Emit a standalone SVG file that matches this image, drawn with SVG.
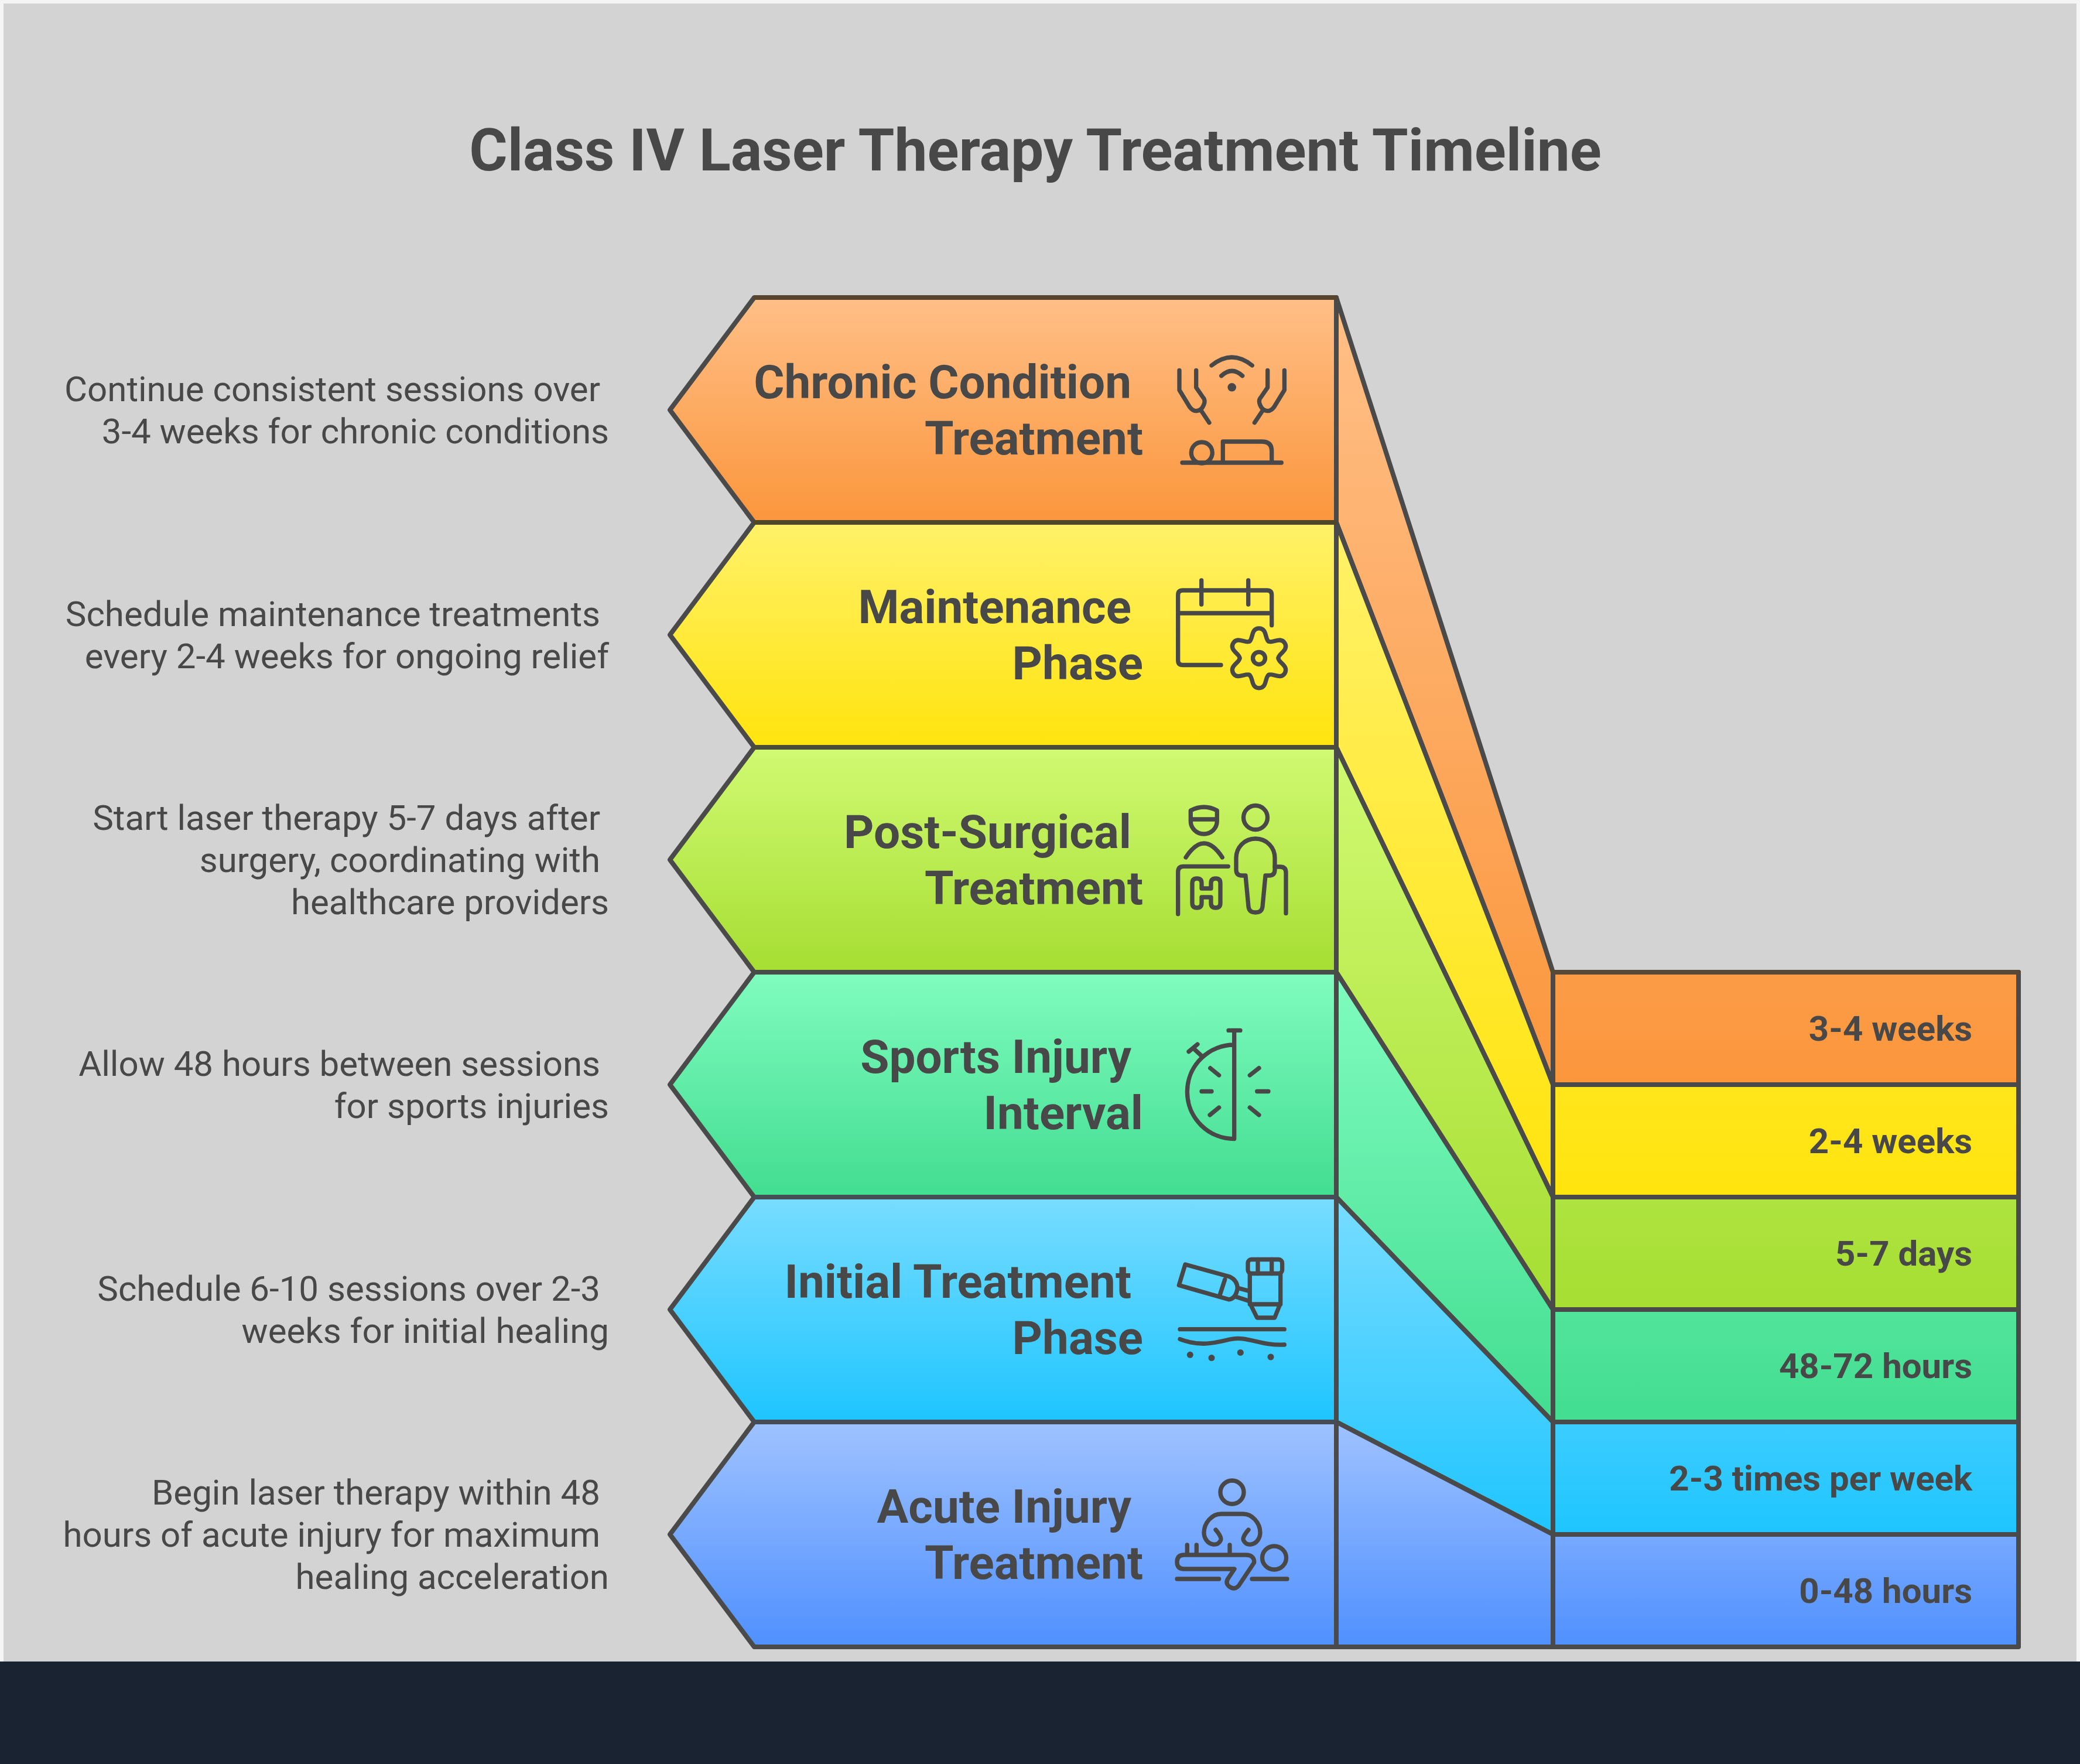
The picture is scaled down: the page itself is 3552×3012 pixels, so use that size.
<svg xmlns="http://www.w3.org/2000/svg" width="3552" height="3012" viewBox="0 0 3552 3012">
<style>
text{font-family:Roboto,"Liberation Sans",sans-serif;fill:#484848}
.t{font-size:100px;font-weight:700;text-anchor:middle}
.l{font-size:80px;font-weight:700;text-anchor:end}
.d{font-size:60px;font-weight:400;text-anchor:end}
.r{font-size:60px;font-weight:700;text-anchor:end}
.s{stroke:#4a4a4a;stroke-width:8;stroke-linejoin:round;stroke-linecap:round}
.h{stroke-width:8;stroke-linecap:round}
.i{fill:none;stroke:#484848;stroke-width:7.3;stroke-linecap:round;stroke-linejoin:round}
.i .f{fill:#484848;stroke:none}
</style>
<defs>
<linearGradient id="g1" x1="0" y1="0" x2="0" y2="1"><stop offset="0" stop-color="#ffbf87"/><stop offset="1" stop-color="#fb963c"/></linearGradient>
<linearGradient id="g2" x1="0" y1="0" x2="0" y2="1"><stop offset="0" stop-color="#fff169"/><stop offset="1" stop-color="#ffe40d"/></linearGradient>
<linearGradient id="g3" x1="0" y1="0" x2="0" y2="1"><stop offset="0" stop-color="#d0fa72"/><stop offset="1" stop-color="#a6de32"/></linearGradient>
<linearGradient id="g4" x1="0" y1="0" x2="0" y2="1"><stop offset="0" stop-color="#80fcbf"/><stop offset="1" stop-color="#42dd90"/></linearGradient>
<linearGradient id="g5" x1="0" y1="0" x2="0" y2="1"><stop offset="0" stop-color="#78dcff"/><stop offset="1" stop-color="#1ec5ff"/></linearGradient>
<linearGradient id="g6" x1="0" y1="0" x2="0" y2="1"><stop offset="0" stop-color="#9fc2ff"/><stop offset="1" stop-color="#4f90ff"/></linearGradient>
</defs>
<rect width="3552" height="3012" fill="#f5f5f5"/>
<rect x="6" y="6" width="3540" height="2831" fill="#d3d3d3"/>
<rect y="2837" width="3552" height="175" fill="#1a2332"/>
<text class="t" x="1768" y="291">Class IV Laser Therapy Treatment Timeline</text>

<g id="connectors">
<polygon class="s" fill="url(#g1)" points="2282,508 2652,1660 3447,1660 3447,1852 2652,1852 2282,892"/>
<polygon class="s" fill="url(#g2)" points="2282,892 2652,1852 3447,1852 3447,2044 2652,2044 2282,1276"/>
<polygon class="s" fill="url(#g3)" points="2282,1276 2652,2044 3447,2044 3447,2236 2652,2236 2282,1660"/>
<polygon class="s" fill="url(#g4)" points="2282,1660 2652,2236 3447,2236 3447,2428 2652,2428 2282,2044"/>
<polygon class="s" fill="url(#g5)" points="2282,2044 2652,2428 3447,2428 3447,2620 2652,2620 2282,2428"/>
<polygon class="s" fill="url(#g6)" points="2282,2428 2652,2620 3447,2620 3447,2812 2282,2812"/>
<line class="s" x1="2652" y1="1660" x2="2652" y2="2812"/>
<line class="h" stroke="#584838" x1="2652" y1="1660" x2="3447" y2="1660"/>
</g>

<g id="node-chronic">
<polygon class="s" fill="url(#g1)" points="1288,508 2282,508 2282,892 1288,892 1144,700"/>
<line class="h" stroke="#59442f" x1="1290" y1="508" x2="2280" y2="508"/>
<text class="l" x="1932" y="680">Chronic Condition</text>
<text class="l" x="1952" y="776">Treatment</text>
<text class="d" x="1025" y="685">Continue consistent sessions over</text>
<text class="d" x="1040" y="757">3-4 weeks for chronic conditions</text>
<text class="r" x="3368" y="1777">3-4 weeks</text>
<g class="i">
<path d="M2069 624Q2103.7 596 2138.3 624M2085.7 641.7Q2103.7 625 2121.7 641.7"/>
<circle class="f" cx="2103.7" cy="661.3" r="7.3"/>
<path d="M2014 632.3V666L2031.7 695Q2037 702 2043.3 701.7Q2053 701 2056.7 688.3Q2058 682 2054 678L2042.7 661.7V632.3M2051.7 701.7L2065 721.7"/>
<path d="M2193.4 632.3V666L2175.7 695Q2170.4 702 2164.1 701.7Q2154.4 701 2150.7 688.3Q2149.4 682 2153.4 678L2164.7 661.7V632.3M2155.7 701.7L2142.4 721.7"/>
<circle cx="2052.3" cy="773" r="18"/>
<path d="M2019 790H2188.3M2088.3 790V754H2155Q2171.7 754 2171.7 770V790"/>
</g>
</g>

<g id="node-maintenance">
<polygon class="s" fill="url(#g2)" points="1288,892 2282,892 2282,1276 1288,1276 1144,1084"/>
<line class="h" stroke="#4f4728" x1="1290" y1="892" x2="2280" y2="892"/>
<text class="l" x="1932" y="1064">Maintenance</text>
<text class="l" x="1952" y="1160">Phase</text>
<text class="d" x="1025" y="1069">Schedule maintenance treatments</text>
<text class="d" x="1040" y="1141">every 2-4 weeks for ongoing relief</text>
<text class="r" x="3368" y="1969">2-4 weeks</text>
<g class="i">
<path d="M2085 1135.5H2019.7Q2011.7 1135.5 2011.7 1127.5V1016Q2011.7 1008 2019.7 1008H2163.7Q2171.7 1008 2171.7 1016V1067.7M2011.7 1047H2171.7M2051.7 991V1032M2131.7 991V1032"/>
<g transform="translate(2150 1123.8)">
<circle r="10.5"/>
<path d="M-16.5-28.6C-10-32-14-51 0-51C14-51 10-32 16.5-28.6"/>
<path d="M-16.5-28.6C-10-32-14-51 0-51C14-51 10-32 16.5-28.6" transform="rotate(60)"/>
<path d="M-16.5-28.6C-10-32-14-51 0-51C14-51 10-32 16.5-28.6" transform="rotate(120)"/>
<path d="M-16.5-28.6C-10-32-14-51 0-51C14-51 10-32 16.5-28.6" transform="rotate(180)"/>
<path d="M-16.5-28.6C-10-32-14-51 0-51C14-51 10-32 16.5-28.6" transform="rotate(240)"/>
<path d="M-16.5-28.6C-10-32-14-51 0-51C14-51 10-32 16.5-28.6" transform="rotate(300)"/>
</g>
</g>
</g>

<g id="node-postsurgical">
<polygon class="s" fill="url(#g3)" points="1288,1276 2282,1276 2282,1660 1288,1660 1144,1468"/>
<line class="h" stroke="#4b4d3a" x1="1290" y1="1276" x2="2280" y2="1276"/>
<text class="l" x="1932" y="1448">Post-Surgical</text>
<text class="l" x="1952" y="1544">Treatment</text>
<text class="d" x="1025" y="1417">Start laser therapy 5-7 days after</text>
<text class="d" x="1025" y="1489">surgery, coordinating with</text>
<text class="d" x="1040" y="1561">healthcare providers</text>
<text class="r" x="3368" y="2161">5-7 days</text>
<g class="i">
<path d="M2033.3 1384Q2056 1372 2078.3 1384V1402A22.5 22 0 0 1 2033.3 1402ZM2033.3 1399H2078.3"/>
<path d="M2025 1464Q2056 1416 2087.3 1464"/>
<path d="M2097.3 1479.3H2021Q2011.7 1479.3 2011.7 1489V1560.7"/>
<path d="M2044 1500Q2052 1500 2052 1508V1517H2068V1508Q2068 1500 2076 1500Q2084 1500 2084 1508V1542Q2084 1550 2076 1550Q2068 1550 2068 1542V1532H2052V1542Q2052 1550 2044 1550Q2036 1550 2036 1542V1508Q2036 1500 2044 1500Z"/>
<ellipse cx="2144" cy="1396" rx="20.5" ry="20.5"/>
<path d="M2144 1432C2125 1432 2111 1447 2111 1465V1485Q2111 1495 2121 1495H2127L2132 1548Q2133 1558 2144 1558Q2155 1558 2156 1548L2161 1495H2167Q2177 1495 2177 1485V1465C2177 1447 2163 1432 2144 1432Z"/>
<path d="M2177 1480H2186Q2196 1480 2196 1490V1559.4"/>
</g>
</g>

<g id="node-sports">
<polygon class="s" fill="url(#g4)" points="1288,1660 2282,1660 2282,2044 1288,2044 1144,1852"/>
<line class="h" stroke="#474e48" x1="1290" y1="1660" x2="2280" y2="1660"/>
<text class="l" x="1932" y="1832">Sports Injury</text>
<text class="l" x="1952" y="1928">Interval</text>
<text class="d" x="1025" y="1837">Allow 48 hours between sessions</text>
<text class="d" x="1040" y="1909">for sports injuries</text>
<text class="r" x="3368" y="2353">48-72 hours</text>
<g class="i">
<path d="M2098 1759.4H2118M2107.7 1759.4V1944.6M2107.7 1784A80 80 0 0 0 2107.7 1944.6"/>
<path d="M2030 1795.6L2045 1783M2037.5 1789.5L2052 1803"/>
<path d="M2066.7 1823.7L2081.7 1836M2052 1863.5H2069M2066 1903.8L2081.7 1891M2134.3 1836L2150 1823.7M2146.7 1863.5H2166M2134.3 1891L2150 1903.8"/>
</g>
</g>

<g id="node-initial">
<polygon class="s" fill="url(#g5)" points="1288,2044 2282,2044 2282,2428 1288,2428 1144,2236"/>
<line class="h" stroke="#454e56" x1="1290" y1="2044" x2="2280" y2="2044"/>
<text class="l" x="1932" y="2216">Initial Treatment</text>
<text class="l" x="1952" y="2312">Phase</text>
<text class="d" x="1025" y="2221">Schedule 6-10 sessions over 2-3</text>
<text class="d" x="1040" y="2293">weeks for initial healing</text>
<text class="r" x="3368" y="2545">2-3 times per week</text>
<g class="i">
<rect x="2131" y="2150.5" width="58.6" height="24" rx="6"/>
<path d="M2148 2150.5V2174.5M2171.7 2150.5V2174.5"/>
<path d="M2134.3 2175V2225L2146.7 2250H2176.7L2186.7 2225V2175M2134.3 2227H2186.7"/>
<path d="M2024 2159L2013.3 2194.5L2098.3 2218.8Q2110 2218 2113.3 2200Q2113 2186 2100 2180ZM2091.7 2184.8L2082.7 2212.5M2115 2199.4L2131.7 2204M2110 2214L2131.7 2221"/>
<path d="M2015 2269.7H2193.3M2015 2286.6C2050 2300 2075 2293 2100 2287C2130 2280 2150 2298 2193.3 2296"/>
<g class="f"><circle cx="2032.3" cy="2313.3" r="5.5"/><circle cx="2069" cy="2318.6" r="5.5"/><circle cx="2118.3" cy="2309.4" r="5.5"/><circle cx="2170" cy="2317" r="5.5"/></g>
</g>
</g>

<g id="node-acute">
<polygon class="s" fill="url(#g6)" points="1288,2428 2282,2428 2282,2812 1288,2812 1144,2620"/>
<line class="h" stroke="#464b58" x1="1290" y1="2428" x2="2280" y2="2428"/>
<text class="l" x="1932" y="2600">Acute Injury</text>
<text class="l" x="1952" y="2696">Treatment</text>
<text class="d" x="1025" y="2569">Begin laser therapy within 48</text>
<text class="d" x="1025" y="2641">hours of acute injury for maximum</text>
<text class="d" x="1040" y="2713">healing acceleration</text>
<text class="r" x="3368" y="2737">0-48 hours</text>
<g class="i">
<circle cx="2104" cy="2548" r="20"/>
<path d="M2076 2612Q2088 2626 2084 2631Q2080 2638 2072 2637C2062 2636 2056 2626 2056 2617C2056 2600 2070 2585 2085 2585H2123C2138 2585 2152 2600 2152 2617C2152 2626 2146 2636 2136 2637Q2128 2638 2124 2631Q2120 2626 2132 2612"/>
<path d="M2027.3 2638V2652.6M2043.3 2638V2652.6M2100 2638V2652.6"/>
<path d="M2022 2655H2127Q2142 2655 2141.7 2668L2115 2708Q2107 2716 2098 2708Q2092 2702 2098 2694L2108 2679H2022Q2010 2679 2010 2667Q2010 2655 2022 2655Z"/>
<ellipse cx="2176" cy="2660" rx="20.5" ry="20"/>
<path d="M2010 2696H2081.7M2138 2696H2198"/>
</g>
</g>
</svg>
